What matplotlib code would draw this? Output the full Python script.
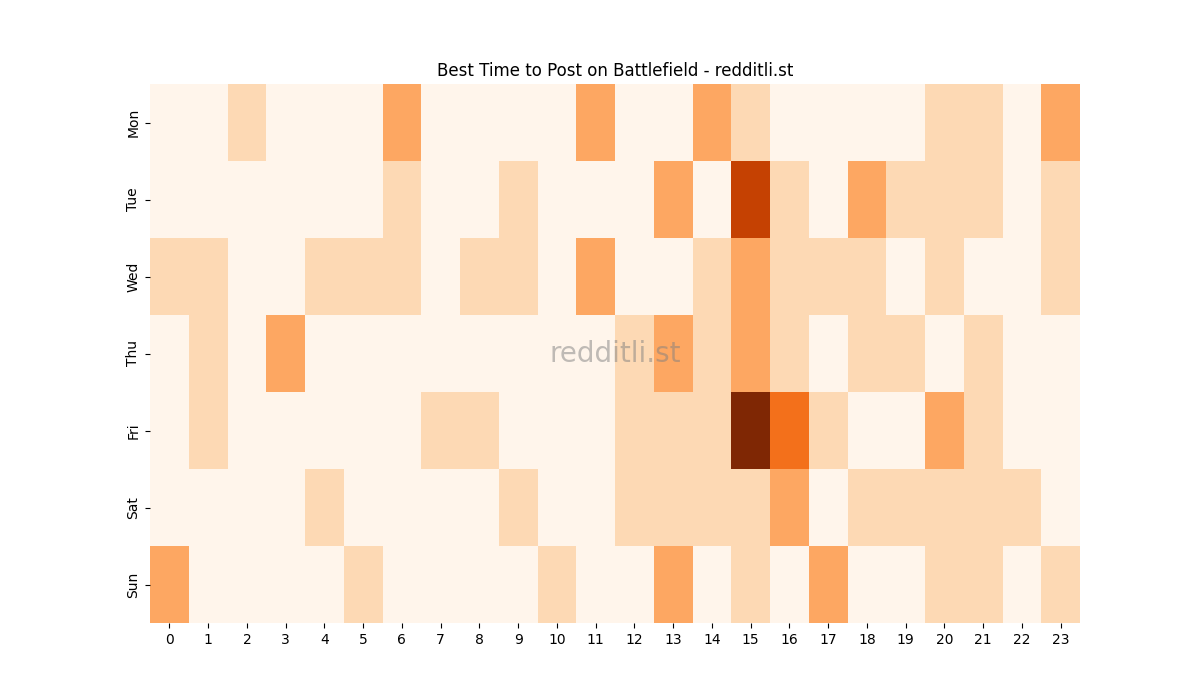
import numpy as np
import matplotlib
matplotlib.use("Agg")
import matplotlib.pyplot as plt
import seaborn as sns

days = ["Mon", "Tue", "Wed", "Thu", "Fri", "Sat", "Sun"]
hours = list(range(24))

mon = [0, 0, 1, 0, 0, 0, 2, 0, 0, 0, 0, 2, 0, 0, 2, 1, 0, 0, 0, 0, 1, 1, 0, 2]
tue = [0, 0, 0, 0, 0, 0, 1, 0, 0, 1, 0, 0, 0, 2, 0, 4, 1, 0, 2, 1, 1, 1, 0, 1]
wed = [1, 1, 0, 0, 1, 1, 1, 0, 1, 1, 0, 2, 0, 0, 1, 2, 1, 1, 1, 0, 1, 0, 0, 1]
thu = [0, 1, 0, 2, 0, 0, 0, 0, 0, 0, 0, 0, 1, 2, 1, 2, 1, 0, 1, 1, 0, 1, 0, 0]
fri = [0, 1, 0, 0, 0, 0, 0, 1, 1, 0, 0, 0, 1, 1, 1, 5, 3, 1, 0, 0, 2, 1, 0, 0]
sat = [0, 0, 0, 0, 1, 0, 0, 0, 0, 1, 0, 0, 1, 1, 1, 1, 2, 0, 1, 1, 1, 1, 1, 0]
sun = [2, 0, 0, 0, 0, 1, 0, 0, 0, 0, 1, 0, 0, 2, 0, 1, 0, 2, 0, 0, 1, 1, 0, 1]

data = np.array([mon, tue, wed, thu, fri, sat, sun])

fig, ax = plt.subplots(figsize=(12, 7), dpi=100)
sns.heatmap(data, cmap="Oranges", cbar=False, ax=ax,
            xticklabels=hours, yticklabels=days)
ax.set_title("Best Time to Post on Battlefield - redditli.st")
ax.text(0.5, 0.5, "redditli.st", transform=ax.transAxes, ha="center",
        va="center", fontsize=20, color="gray", alpha=0.5)

fig.savefig("out.png")
